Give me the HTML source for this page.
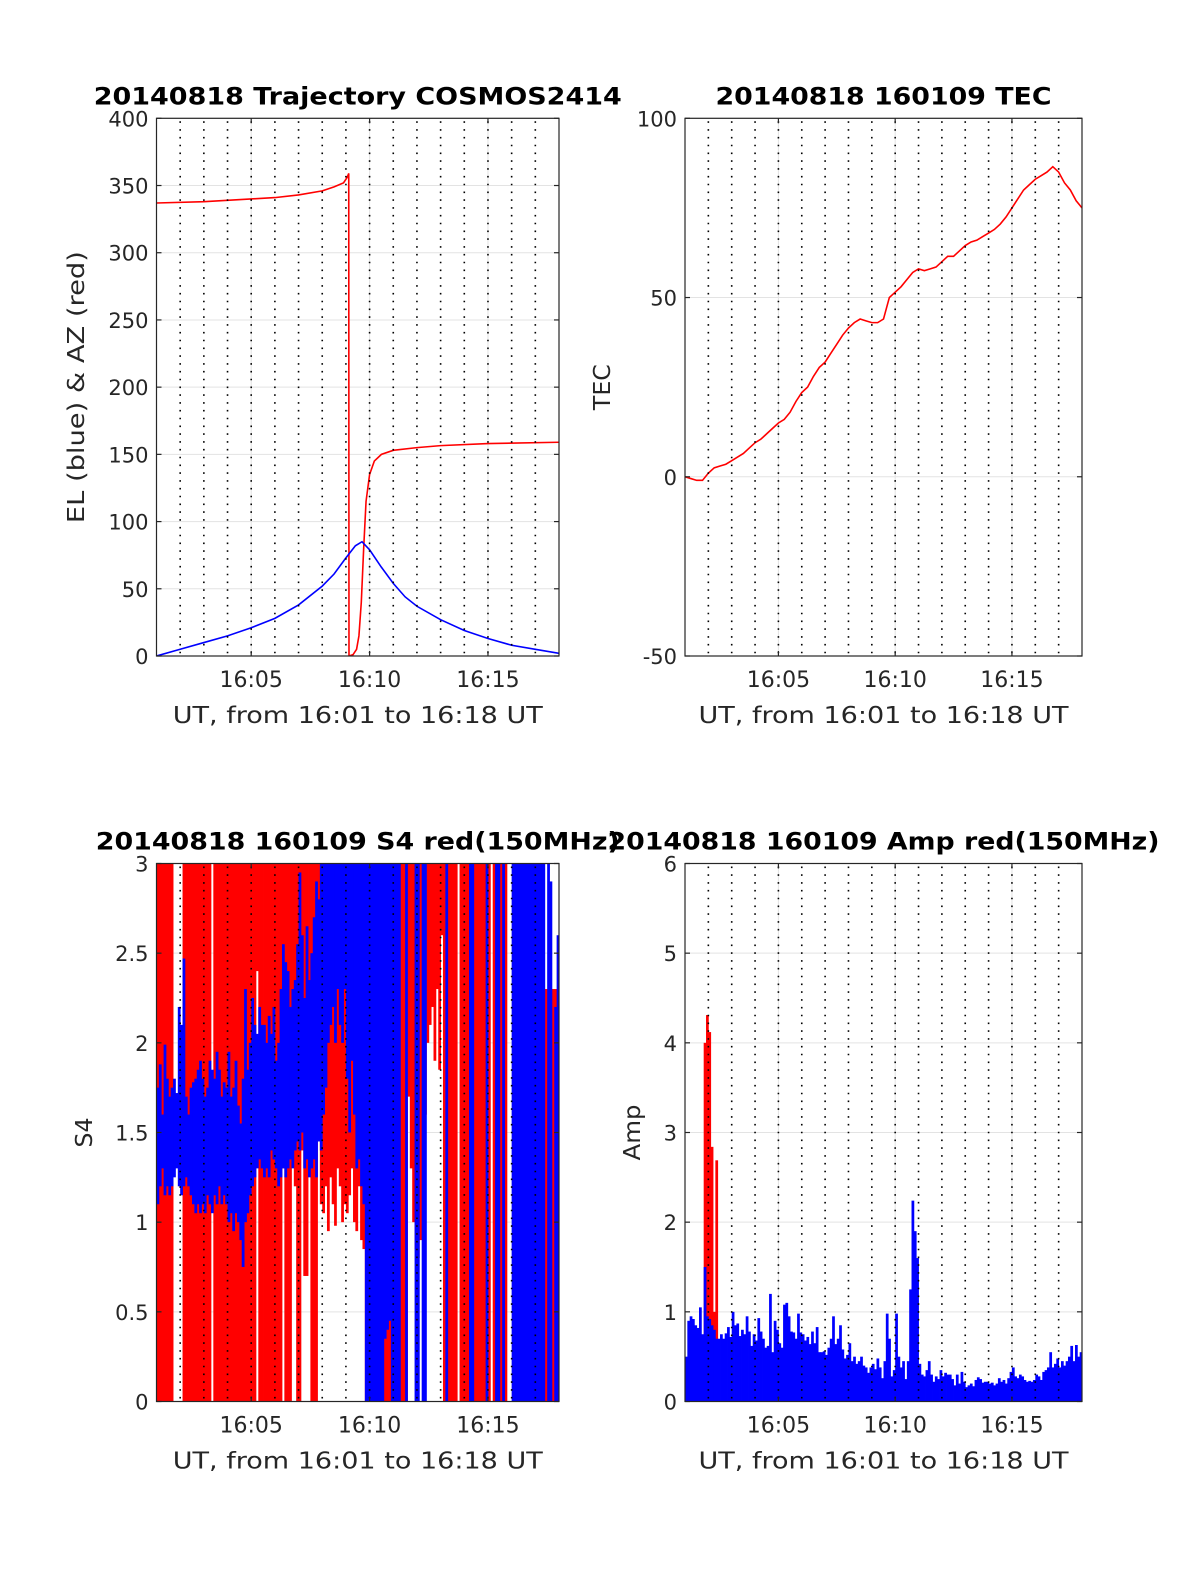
<!DOCTYPE html>
<html><head><meta charset="utf-8">
<style>
html,body{margin:0;padding:0;background:#fff;}
svg{display:block;font-family:"DejaVu Sans","Liberation Sans",sans-serif;}
</style></head>
<body>
<svg id="fig" width="1200" height="1575" viewBox="0 0 1200 1575" xmlns="http://www.w3.org/2000/svg"></svg>
<script>
// ---------- data ----------
const AZ_T=[0,2,4,5,6,7,7.5,7.9,8.05,8.12,8.13,8.3,8.45,8.55,8.65,8.75,8.85,9.0,9.2,9.5,10,11,12,14,17];
const AZ_V=[337,338,340,341,343,346,349,352,356,359,0,1,5,15,40,80,115,135,145,150,153,155,156.5,158,159];
const EL_T=[0,1,2,3,4,5,6,7,7.5,8,8.4,8.68,9,9.5,10,10.5,11,12,13,14,15,16,17];
const EL_V=[0,5,10,15,21,28,38,52,61,73,82,85,79,66,54,44,37,27,19,13,8,5,2];
const TEC_T=[0,0.25,0.5,0.75,1,1.25,1.5,1.75,2,2.25,2.5,2.75,3,3.25,3.5,3.75,4,4.25,4.5,4.75,5,5.25,5.5,5.75,6,6.25,6.5,6.75,7,7.25,7.5,7.75,8,8.25,8.5,8.75,9,9.25,9.5,9.75,10,10.25,10.5,10.75,11,11.25,11.5,11.75,12,12.25,12.5,12.75,13,13.25,13.5,13.75,14,14.25,14.5,14.75,15,15.25,15.5,15.75,16,16.25,16.5,16.75,17];
const TEC_V=[0,-0.5,-1,-1,1,2.5,3,3.5,4.5,5.5,6.5,8,9.5,10.5,12,13.5,15,16,18,21,23.5,25,28,30.5,32,34.5,37,39.5,41.5,43,44,43.5,43,43,44,50,51.5,53,55,57,58,57.5,58,58.5,60,61.5,61.5,63,64.5,65.5,66,67,68,69,70.5,72.5,75,77.5,80,81.5,83,84,85,86.5,85,82,80,77,75];
const S4_RED_LO=[0,0,0,0,0,0,0,null,null,null,
null,0,0,0,0,0,0,0,0,0,
0,0,0,null,0,0,0,0,0,0,
0,0,0,0,0,0,0,0,0,0,
0,0,2.4,0,0,0,0,0,0,0,
0,0,0,1.3,0,0,0,2.2,1.2,0,
0,1.4,0.7,0.7,1.3,0,0,0,1.5,1.1,
1.05,1.2,0.95,1.25,1.1,0.98,1.3,1.2,1.0,1.1,
1.05,1.15,1.3,1.0,0.95,1.2,0.9,0.85,0,0,
0,0,0,0,0,0,0,0,0,0,
0,0,0,0,0,0,1.7,1.3,1.0,0.85,
0.8,0.9,1.2,1.6,2.0,2.1,2.2,1.9,2.3,1.85,
2.6,0,0,0,0,0,0,null,0,0,
0,0,0,0,0,0,0,0,0,0,
0,null,0,0,0,0,0,0,null,null,
null,null,null,null,null,null,null,null,null,null,
null,null,null,0,0,0,0,0,0,0];
const S4_RED_HI=[3,3,3,3,3,3,3,null,null,null,
null,3,3,3,3,3,3,3,3,3,
3,3,3,null,3,3,3,3,3,3,
3,3,3,3,3,3,3,3,3,3,
3,3,3,3,3,3,3,3,3,3,
3,3,3,3,3,3,3,3,3,3,
3,3,3,3,3,3,3,3,3,3,
3,3,3,3,3,3,3,3,3,3,
3,3,3,3,3,3,3,3,3,3,
3,3,3,3,3,3,3,3,3,3,
3,3,3,3,3,3,3,3,3,3,
3,3,3,3,3,3,3,3,3,3,
3,3,3,3,3,3,3,null,3,3,
3,3,3,3,3,3,3,3,3,3,
3,null,3,3,3,3,3,3,null,null,
null,null,null,null,null,null,null,null,null,null,
null,null,null,2.1,2.3,2.3,2.3,2.3,2.3,2.3];
const S4_BLUE_LO=[1.1,1.2,1.3,1.15,1.2,1.15,1.2,1.25,1.3,1.2,
1.15,1.2,1.25,1.2,1.15,1.1,1.05,1.1,1.05,1.1,
1.05,1.15,1.1,1.05,1.15,1.1,1.2,1.1,1.15,1.1,
1.0,1.05,0.95,1.05,1.0,0.9,0.75,1.0,1.05,1.15,
1.2,1.25,1.3,1.35,1.3,1.25,1.3,1.25,1.4,1.35,
1.3,1.2,1.25,1.3,1.25,1.3,1.35,1.3,1.4,1.45,
1.4,1.5,1.3,1.35,1.25,1.3,1.35,1.25,1.45,1.4,
1.6,1.75,2.0,2.1,2.2,2.0,2.3,2.1,2.0,2.3,
1.8,1.5,1.9,1.6,1.3,1.35,1.2,1.1,0,0,
0,0,0,0,0,0,0.35,0.4,0.45,0,
0,0,0,null,null,0,null,null,null,0,
0,null,0,0,null,null,null,null,null,null,
null,null,0,null,null,null,null,null,null,null,
null,null,0,0,null,null,null,null,null,0,
null,null,null,0,0,null,0,null,null,null,
0,0,0,0,0,0,0,0,0,0,
0,0,0,0,null,0,0,null,0,0];
const S4_BLUE_HI=[1.75,1.88,1.6,1.99,1.8,1.7,1.75,1.8,1.72,2.2,
2.1,2.47,1.7,1.6,1.75,1.78,1.8,1.85,1.9,1.8,
1.7,1.75,1.9,1.85,1.8,1.95,1.85,1.7,1.78,1.75,
1.95,1.7,1.75,1.9,1.65,1.55,1.8,2.3,1.85,2.0,
2.25,2.1,2.05,2.2,2.1,2.1,2.0,2.15,2.05,2.2,
1.9,2.0,2.3,2.55,2.45,2.4,2.2,2.3,2.35,2.55,
2.95,2.6,2.25,2.65,2.35,2.5,2.7,2.9,2.8,3,
3,3,3,3,3,3,3,3,3,3,
3,3,3,3,3,3,3,3,3,3,
3,3,3,3,3,3,3,3,3,3,
3,3,3,null,null,3,null,null,null,3,
3,null,3,3,null,null,null,null,null,null,
null,null,3,null,null,null,null,null,null,null,
null,null,3,3,null,null,null,null,null,3,
null,null,null,3,3,null,3,null,null,null,
3,3,3,3,3,3,3,3,3,3,
3,3,3,3,null,3,2.9,null,2.2,2.6];
const AMP_RED=[null,null,null,null,null,null,null,null,4.0,4.31,4.12,2.84,1.0,2.69];
const AMP_BLUE=[0.5,0.9,0.95,0.92,0.85,0.82,1.05,0.75,1.5,0.95,
0.92,0.85,0.8,0.7,0.7,0.75,0.7,0.76,0.83,0.72,
1.0,0.85,0.87,0.73,0.8,0.75,0.95,0.78,0.62,0.75,
0.68,0.93,0.78,0.7,0.6,0.62,1.2,0.55,0.9,0.8,
0.65,0.6,1.08,1.1,0.95,0.78,0.77,0.7,0.98,0.77,
0.75,0.68,0.72,0.64,0.78,0.65,0.83,0.55,0.55,0.56,
0.52,0.6,0.7,0.95,0.64,0.7,0.85,0.58,0.48,0.52,
0.65,0.45,0.5,0.42,0.45,0.5,0.4,0.38,0.32,0.38,
0.42,0.36,0.48,0.38,0.26,0.45,0.98,0.7,0.28,0.35,
0.98,0.5,0.38,0.45,0.25,0.45,1.25,2.24,1.9,1.6,
0.42,0.3,0.28,0.35,0.45,0.3,0.22,0.28,0.25,0.35,
0.28,0.32,0.3,0.3,0.25,0.18,0.3,0.2,0.33,0.22,
0.16,0.18,0.2,0.17,0.24,0.27,0.25,0.21,0.22,0.22,
0.2,0.21,0.18,0.2,0.26,0.22,0.24,0.2,0.26,0.33,
0.38,0.28,0.26,0.3,0.28,0.24,0.22,0.23,0.22,0.24,
0.3,0.28,0.24,0.33,0.35,0.38,0.55,0.38,0.42,0.48,
0.38,0.45,0.4,0.45,0.5,0.62,0.45,0.63,0.5,0.55];
const BIN=0.1;
const XTICK_T=[4,9,14];
const XTICK_L=["16:05","16:10","16:15"];
const MINUTE_LINES=[1,2,3,4,5,6,7,8,9,10,11,12,13,14,15,16];
const YT_TL=[0,50,100,150,200,250,300,350,400];
const YT_TR=[-50,0,50,100];
const YT_BL=[0,0.5,1,1.5,2,2.5,3];
const YT_BR=[0,1,2,3,4,5,6];

// ---------- drawing ----------
const NS="http://www.w3.org/2000/svg";
const svg=document.getElementById('fig');
function el(tag,attrs,parent){const e=document.createElementNS(NS,tag);for(const k in attrs)e.setAttribute(k,attrs[k]);(parent||svg).appendChild(e);return e;}
function txt(s,attrs,parent){const e=el('text',attrs,parent);e.textContent=s;return e;}

function makeAxes(id,x0,y0,w,h,ymin,ymax){
  const g=el('g',{});
  
  
  const cp=el('clipPath',{id:'clip-'+id},g);
  el('rect',{x:x0,y:y0,width:w,height:h},cp);
  const sx=t=>x0+t/17*w;
  const sy=v=>y0+h-(v-ymin)/(ymax-ymin)*h;
  return {g,x0,y0,w,h,sx,sy,id};
}
function grid(ax,yt){
  const gg=el('g',{stroke:'#e3e3e3','stroke-width':1},ax.g);
  
  
  yt.forEach(v=>{const l=el('line',{x1:ax.x0,x2:ax.x0+ax.w,y1:ax.sy(v),y2:ax.sy(v)},gg);
    
    });
  XTICK_T.forEach(t=>{const l=el('line',{x1:ax.sx(t),x2:ax.sx(t),y1:ax.y0,y2:ax.y0+ax.h},gg);
    
    });
}
function minuteLines(ax){
  const gg=el('g',{stroke:'#000','stroke-width':1.6,'stroke-dasharray':'1.6,6.2'},ax.g);
  
  
  MINUTE_LINES.forEach(t=>{const l=el('line',{x1:ax.sx(t),x2:ax.sx(t),y1:ax.y0+3,y2:ax.y0+ax.h},gg);
    
    });
}
function frame(ax,yt,fmt){
  const g=ax.g;
  const b=el('rect',{x:ax.x0,y:ax.y0,width:ax.w,height:ax.h,fill:'none',stroke:'#262626','stroke-width':1.2},g);
  
  
  const tg=el('g',{stroke:'#262626','stroke-width':1.2},g);
  yt.forEach(v=>{const y=ax.sy(v);
    el('line',{x1:ax.x0,x2:ax.x0+5,y1:y,y2:y},tg);
    el('line',{x1:ax.x0+ax.w,x2:ax.x0+ax.w-5,y1:y,y2:y},tg);
    const t=txt(fmt(v),{x:ax.x0-8,y:y+8,'text-anchor':'end','font-size':21,fill:'#262626'},g);
    
    });
  XTICK_T.forEach((tt,i)=>{const x=ax.sx(tt);
    el('line',{x1:x,x2:x,y1:ax.y0+ax.h,y2:ax.y0+ax.h-5},tg);
    el('line',{x1:x,x2:x,y1:ax.y0,y2:ax.y0+5},tg);
    const t=txt(XTICK_L[i],{x:x,y:ax.y0+ax.h+31,'text-anchor':'middle','font-size':22,fill:'#262626'},g);
    
    });
  const xl=txt('UT, from 16:01 to 16:18 UT',{x:ax.x0+ax.w/2,y:ax.y0+ax.h+67,'text-anchor':'middle','font-size':23,fill:'#262626',textLength:370,lengthAdjust:'spacingAndGlyphs'},g);
  
  
}
function ylabel(ax,s,x,len){
  const cy=ax.y0+ax.h/2;
  const t=txt(s,{x:x,y:cy,'text-anchor':'middle','font-size':23,fill:'#262626',transform:'rotate(-90 '+x+' '+cy+')',textLength:len,lengthAdjust:'spacingAndGlyphs'},ax.g);
  
  
}
function title(ax,s,len){
  const t=txt(s,{x:ax.x0+ax.w/2,y:ax.y0-14,'text-anchor':'middle','font-size':24,'font-weight':'bold',fill:'#000',textLength:len,lengthAdjust:'spacingAndGlyphs'},svg);
  
  
}
function line(ax,T,V,color,name){
  let d='';T.forEach((t,i)=>{d+=(i?'L':'M')+ax.sx(t).toFixed(2)+','+ax.sy(V[i]).toFixed(2);});
  const p=el('path',{d:d,fill:'none',stroke:color,'stroke-width':1.6,'clip-path':'url(#clip-'+ax.id+')'},ax.g);
  
  
}
function bands(ax,LO,HI,color,name){
  const gg=el('g',{fill:color,'clip-path':'url(#clip-'+ax.id+')'},ax.g);
  
  
  const bw=ax.sx(BIN)-ax.sx(0);
  LO.forEach((lo,i)=>{if(lo===null||HI[i]===null)return;
    const y1=ax.sy(HI[i]),y2=ax.sy(lo);
    const r=el('rect',{x:ax.sx(i*BIN),y:y1,width:bw+0.4,height:Math.max(1.5,y2-y1)},gg);
    
    });
}
function bars(ax,V,color,name){
  const gg=el('g',{fill:color,'clip-path':'url(#clip-'+ax.id+')'},ax.g);
  
  
  const bw=ax.sx(BIN)-ax.sx(0);
  V.forEach((v,i)=>{if(v===null)return;
    const y1=ax.sy(v),y2=ax.sy(0);
    const r=el('rect',{x:ax.sx(i*BIN),y:y1,width:bw+0.4,height:y2-y1},gg);
    
    });
}

// Top-left: trajectory
const A1=makeAxes('trajectory',156.5,118.3,402.5,537.7,0,400);
grid(A1,YT_TL);
line(A1,AZ_T,AZ_V,'#ff0000','azimuth-line');
line(A1,EL_T,EL_V,'#0000ff','elevation-line');
minuteLines(A1);
frame(A1,YT_TL,v=>String(v));
ylabel(A1,'EL (blue) & AZ (red)',84,272);
title(A1,'20140818 Trajectory COSMOS2414',528);

// Top-right: TEC
const A2=makeAxes('tec',685,118.3,397,537.7,-50,100);
grid(A2,YT_TR);
line(A2,TEC_T,TEC_V,'#ff0000','tec-line');
minuteLines(A2);
frame(A2,YT_TR,v=>String(v));
ylabel(A2,'TEC',610,46);
title(A2,'20140818 160109 TEC',336);

// Bottom-left: S4
const A3=makeAxes('s4',156.5,863.5,402.5,538,0,3);
grid(A3,YT_BL);
bands(A3,S4_RED_LO,S4_RED_HI,'#ff0000','s4-red-series');
bands(A3,S4_BLUE_LO,S4_BLUE_HI,'#0000ff','s4-blue-series');
minuteLines(A3);
frame(A3,YT_BL,v=>String(v));
ylabel(A3,'S4',92,30);
title(A3,'20140818 160109 S4 red(150MHz)',524);

// Bottom-right: Amp
const A4=makeAxes('amp',685,863.5,397,538,0,6);
grid(A4,YT_BR);
bars(A4,AMP_RED,'#ff0000','amp-red-series');
bars(A4,AMP_BLUE,'#0000ff','amp-blue-series');
minuteLines(A4);
frame(A4,YT_BR,v=>String(v));
ylabel(A4,'Amp',640,56);
title(A4,'20140818 160109 Amp red(150MHz)',552);
</script>
</body></html>
